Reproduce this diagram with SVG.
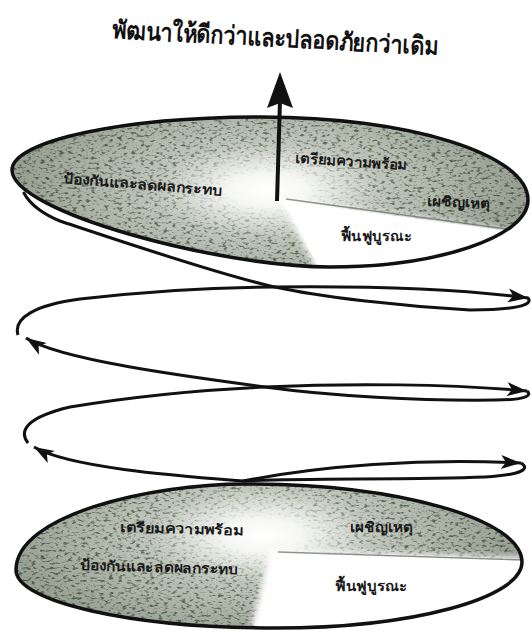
<svg xmlns="http://www.w3.org/2000/svg" width="531" height="632" viewBox="0 0 531 632">
<style>
  .sp{fill:none;stroke:#111;stroke-width:3;stroke-linecap:round;stroke-linejoin:round}
  .a{marker-end:url(#ah);stroke-linecap:butt}
  .outline{fill:none;stroke:#111;stroke-width:3.5}
  .lbl{font-family:'Noto Sans','DejaVu Sans',sans-serif;font-weight:700;font-size:14px;fill:#1a1a1a}
  .title{font-family:'Noto Sans','DejaVu Sans',sans-serif;font-weight:700;font-size:25px;fill:#111}
  .edge{fill:none;stroke:#4a5248;stroke-width:1.4;stroke-opacity:0.6}
</style>
<defs>
  <marker id="ah" viewBox="-21 -8 22 16" refX="0" refY="0" markerWidth="22" markerHeight="16" markerUnits="userSpaceOnUse" orient="auto">
    <path d="M0,0 L-20,-7 L-15,0 L-20,7 Z" fill="#111"/>
  </marker>
  <path id="pT" d="M 12 170 C 12 140.7 123.9 117 262 117 C 408.9 117 528 154.2 528 200 C 528 237 437.1 267 330 267 C 220 267 12 212 12 170 Z"/>
  <path id="pB" d="M 16 570 C 16 515 150 484 245 484 C 398 484 522 518.9 522 562 C 522 598.5 411.4 628 275 628 C 131.9 628 16 602 16 570 Z"/>
  <clipPath id="cT"><use href="#pT"/></clipPath>
  <clipPath id="cB"><use href="#pB"/></clipPath>
  <radialGradient id="gT" gradientUnits="userSpaceOnUse" cx="268" cy="190" r="250" gradientTransform="translate(268 190) scale(1 0.42) translate(-268 -190)">
    <stop offset="0" stop-color="#ffffff"/>
    <stop offset="0.16" stop-color="#f6f7f4"/>
    <stop offset="0.45" stop-color="#c0c6bb"/>
    <stop offset="1" stop-color="#98a194"/>
  </radialGradient>
  <radialGradient id="gB" gradientUnits="userSpaceOnUse" cx="262" cy="535" r="250" gradientTransform="translate(262 535) scale(1 0.42) translate(-262 -535)">
    <stop offset="0" stop-color="#ffffff"/>
    <stop offset="0.16" stop-color="#f6f7f4"/>
    <stop offset="0.45" stop-color="#c0c6bb"/>
    <stop offset="1" stop-color="#98a194"/>
  </radialGradient>
  <radialGradient id="gMT" gradientUnits="userSpaceOnUse" cx="268" cy="190" r="250" gradientTransform="translate(268 190) scale(1 0.42) translate(-268 -190)">
    <stop offset="0" stop-color="#000"/>
    <stop offset="0.15" stop-color="#000"/>
    <stop offset="0.5" stop-color="#ccc"/>
    <stop offset="1" stop-color="#fff"/>
  </radialGradient>
  <radialGradient id="gMB" gradientUnits="userSpaceOnUse" cx="262" cy="535" r="250" gradientTransform="translate(262 535) scale(1 0.42) translate(-262 -535)">
    <stop offset="0" stop-color="#000"/>
    <stop offset="0.15" stop-color="#000"/>
    <stop offset="0.5" stop-color="#ccc"/>
    <stop offset="1" stop-color="#fff"/>
  </radialGradient>
  <mask id="mT"><rect x="0" y="100" width="531" height="180" fill="url(#gMT)"/></mask>
  <mask id="mB"><rect x="0" y="470" width="531" height="162" fill="url(#gMB)"/></mask>
  <filter id="spk" x="0" y="0" width="1" height="1" color-interpolation-filters="sRGB">
    <feTurbulence type="fractalNoise" baseFrequency="0.22 0.4" numOctaves="2" seed="7"/>
    <feColorMatrix type="matrix" values="0 0 0 0 0.3  0 0 0 0 0.35  0 0 0 0 0.28  4.4 0 0 0 -2.3"/>
  </filter>
  <filter id="soft" x="-0.1" y="-0.1" width="1.2" height="1.2">
    <feGaussianBlur stdDeviation="3"/>
  </filter>
</defs>
<rect width="531" height="632" fill="#fff"/>

<g id="title">
  <text class="title" x="112" y="38" transform="rotate(3 112 38)" textLength="326" lengthAdjust="spacingAndGlyphs">พัฒนาให้ดีกว่าและปลอดภัยกว่าเดิม</text>
</g>

<g id="disc-top">
  <g clip-path="url(#cT)">
    <rect x="0" y="100" width="531" height="180" fill="url(#gT)"/>
    <rect x="0" y="100" width="531" height="180" fill="#000" filter="url(#spk)" mask="url(#mT)"/>
    <polygon points="279,198 536,233 536,300 332,300" fill="#fff" filter="url(#soft)"/>
    <polygon points="284,201 536,235 536,300 336,300" fill="#fff"/>
    <line class="edge" x1="286" y1="199" x2="528" y2="232"/>
  </g>
  <use href="#pT" class="outline"/>
  <text class="lbl" x="63" y="183" transform="rotate(4.5 63 183)" textLength="159" lengthAdjust="spacingAndGlyphs">ป้องกันและลดผลกระทบ</text>
  <text class="lbl" x="295" y="163" transform="rotate(3.5 295 163)" textLength="112" lengthAdjust="spacingAndGlyphs">เตรียมความพร้อม</text>
  <text class="lbl" x="427" y="206" transform="rotate(2 427 206)" textLength="63" lengthAdjust="spacingAndGlyphs">เผชิญเหตุ</text>
  <text class="lbl" x="341" y="241" textLength="71" lengthAdjust="spacingAndGlyphs">ฟื้นฟูบูรณะ</text>
</g>

<g id="disc-bottom">
  <g clip-path="url(#cB)">
    <rect x="0" y="470" width="531" height="162" fill="url(#gB)"/>
    <rect x="0" y="470" width="531" height="162" fill="#000" filter="url(#spk)" mask="url(#mB)"/>
    <polygon points="270,550 536,558 536,640 248,640" fill="#fff" filter="url(#soft)"/>
    <polygon points="276,553 536,561 536,640 256,640" fill="#fff"/>
    <line class="edge" x1="278" y1="552" x2="522" y2="560"/>
  </g>
  <use href="#pB" class="outline"/>
  <text class="lbl" x="120" y="532" transform="rotate(1.5 120 532)" textLength="123" lengthAdjust="spacingAndGlyphs">เตรียมความพร้อม</text>
  <text class="lbl" x="350" y="532" textLength="63" lengthAdjust="spacingAndGlyphs">เผชิญเหตุ</text>
  <text class="lbl" x="80" y="570" transform="rotate(1.5 80 570)" textLength="158" lengthAdjust="spacingAndGlyphs">ป้องกันและลดผลกระทบ</text>
  <text class="lbl" x="335" y="591" textLength="73" lengthAdjust="spacingAndGlyphs">ฟื้นฟูบูรณะ</text>
</g>

<g id="connectors">
  <path class="sp a" d="M 243 481 C 320 466, 420 458, 521 463"/>
  <path class="sp a" d="M 521 463 C 531 469, 521 475, 485 477 C 410 480, 300 478, 243 481 C 180 476, 70 468, 34 447"/>
  <path class="sp a" d="M 28 443 C 18 430, 28 417, 70 407 C 130 397, 200 390, 265 387 C 350 383, 450 384, 527 391"/>
  <path class="sp a" d="M 527 391 C 533 396, 524 400, 495 400 C 420 401, 330 396, 265 387 C 190 377, 60 360, 26 338"/>
  <path class="sp a" d="M 18 335 C 13 318, 35 305, 80 299 C 140 292, 210 287, 275 287 C 370 286, 460 289, 528 298"/>
  <path class="sp" d="M 528 298 C 534 305, 515 310, 470 310 C 400 306, 320 297, 275 287 C 220 275, 120 241, 60 221 C 45 215, 30 205, 24 193"/>
  <line x1="277" y1="201" x2="280" y2="100" stroke="#111" stroke-width="4"/>
  <polygon points="280,72 267,108 280,103 293,108" fill="#111"/>
</g>
</svg>
